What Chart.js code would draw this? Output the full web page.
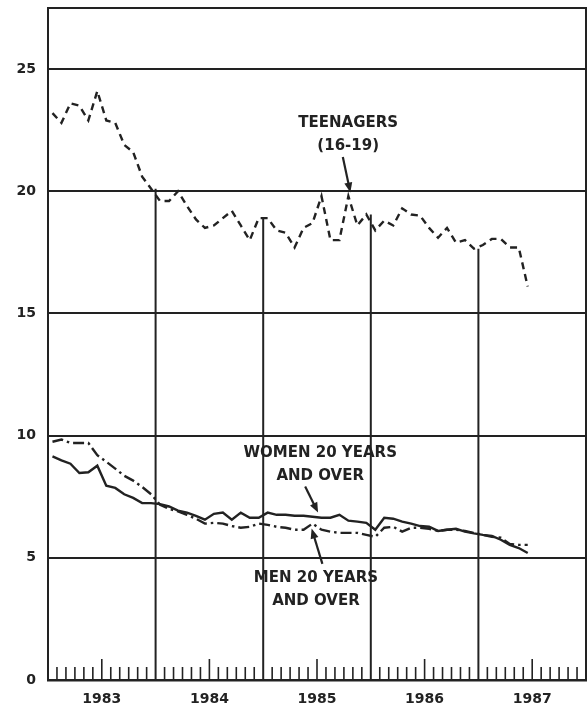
<!DOCTYPE html>
<html lang="en">
<head>
<meta charset="UTF-8">
<title>Unemployment rates by age and sex, 1983-87</title>
<script src="https://cdn.jsdelivr.net/npm/chart.js"></script>
<style>
    body { margin: 0; background: #fff; }
    .chart-box { width: 587px; height: 708px; position: relative; }
</style>
</head>
<body>
<div class="chart-box"><canvas id="chart"></canvas></div>
<script>
// monthly data, January 1983 through June 1987
const years = [1983, 1984, 1985, 1986, 1987];
const yTicks = [0, 5, 10, 15, 20, 25];

const teenagers = [
    23.2, 22.8, 23.6, 23.5, 22.9, 24.1, 22.9, 22.8, 21.9, 21.6, 20.6, 20.1,
    19.6, 19.6, 20.0, 19.4, 18.85, 18.5, 18.6, 18.9, 19.2, 18.6, 18.0, 18.9,
    18.9, 18.4, 18.3, 17.7, 18.5, 18.7, 19.8, 18.0, 18.0, 19.8, 18.6, 19.05,
    18.4, 18.8, 18.6, 19.3, 19.05, 19.0, 18.5, 18.1, 18.5, 17.9, 18.0, 17.65,
    17.8, 18.05, 18.05, 17.7, 17.7, 16.1
];
const women = [
    9.15, 8.99, 8.85, 8.47, 8.5, 8.77, 7.95, 7.86, 7.6, 7.45, 7.24, 7.24,
    7.2, 7.1, 6.93, 6.85, 6.72, 6.56, 6.8, 6.85, 6.56, 6.85, 6.64, 6.64,
    6.85, 6.76, 6.76, 6.72, 6.72, 6.68, 6.64, 6.64, 6.76, 6.52, 6.48, 6.43,
    6.15, 6.64, 6.6, 6.48, 6.4, 6.3, 6.27, 6.1, 6.15, 6.19, 6.07, 6.0,
    5.94, 5.9, 5.74, 5.53, 5.4, 5.2
];
const men = [
    9.75, 9.84, 9.7, 9.7, 9.7, 9.2, 8.93, 8.65, 8.36, 8.16, 7.9, 7.6,
    7.17, 7.0, 6.9, 6.76, 6.6, 6.4, 6.43, 6.4, 6.3, 6.23, 6.27, 6.4,
    6.35, 6.27, 6.23, 6.15, 6.15, 6.4, 6.15, 6.07, 6.02, 6.02, 6.02, 5.94,
    5.86, 6.23, 6.27, 6.07, 6.23, 6.23, 6.19, 6.1, 6.15, 6.15, 6.1, 6.02,
    5.94, 5.86, 5.82, 5.57, 5.53, 5.53
];

const ink = '#222';
const font = 'DejaVu Sans, sans-serif';
const startYear = years[0];
const endYear = years[years.length - 1] + 1;

// month i is plotted in the middle of its month
const toPoints = arr => arr.map((v, i) => ({ x: startYear + (i + 0.5) / 12, y: v }));

// labels placed in data units
const notes = [
    { lines: ['TEENAGERS', '(16-19)'], x: 1985.79, y: [22.8, 21.85],
      arrow: [1985.74, 21.4, 1985.81, 19.95] },
    { lines: ['WOMEN 20 YEARS', 'AND OVER'], x: 1985.53, y: [9.28, 8.35],
      arrow: [1985.39, 7.92, 1985.51, 6.85], gap: [1985.75, 1985.21, 9.8, 7.85] },
    { lines: ['MEN 20 YEARS', 'AND OVER'], x: 1985.49, y: [4.17, 3.23],
      arrow: [1985.55, 4.75, 1985.45, 6.2], gap: [1985.75, 1985.2, 4.8, 2.75] }
];

const framePlugin = {
    id: 'frame',
    beforeDatasetsDraw(chart) {
        const { ctx, chartArea: a, scales: { x, y } } = chart;
        ctx.save();
        ctx.strokeStyle = ink;

        // outer frame
        ctx.lineWidth = 2;
        ctx.strokeRect(a.left, a.top, a.right - a.left, a.bottom - a.top);

        // month ticks rising from the base line
        ctx.lineWidth = 1.6;
        for (let m = 1; m < (endYear - startYear) * 12; m++) {
            if (m % 12 === 0) continue;
            const px = x.getPixelForValue(startYear + m / 12);
            const h = m % 12 === 6 ? 21 : 13;
            ctx.beginPath();
            ctx.moveTo(px, a.bottom);
            ctx.lineTo(px, a.bottom - h);
            ctx.stroke();
        }

        // year dividers hang from the teenage line
        ctx.lineWidth = 2;
        years.slice(1).forEach(yr => {
            const idx = (yr - startYear) * 12 - 1;
            const px = x.getPixelForValue(yr);
            ctx.beginPath();
            ctx.moveTo(px, y.getPixelForValue(teenagers[idx]));
            ctx.lineTo(px, a.bottom);
            ctx.stroke();
        });

        // white space behind the lower labels
        ctx.fillStyle = '#fff';
        notes.forEach(n => {
            if (!n.gap) return;
            const [x1, x0, y1, y0] = n.gap;
            const l = x.getPixelForValue(x0), r = x.getPixelForValue(x1);
            const t = y.getPixelForValue(y1), b = y.getPixelForValue(y0);
            ctx.fillRect(l, t, r - l, b - t);
        });
        ctx.restore();
    },
    afterDatasetsDraw(chart) {
        const { ctx, scales: { x, y } } = chart;
        ctx.save();
        ctx.fillStyle = ink;
        ctx.strokeStyle = ink;
        ctx.font = 'bold 15px ' + font;
        ctx.textAlign = 'center';
        ctx.textBaseline = 'middle';
        notes.forEach(n => {
            const px = x.getPixelForValue(n.x);
            n.lines.forEach((t, i) => ctx.fillText(t, px, y.getPixelForValue(n.y[i])));

            const [ax0, ay0, ax1, ay1] = n.arrow;
            const x0 = x.getPixelForValue(ax0), y0 = y.getPixelForValue(ay0);
            const x1 = x.getPixelForValue(ax1), y1 = y.getPixelForValue(ay1);
            const ang = Math.atan2(y1 - y0, x1 - x0);
            ctx.lineWidth = 2.2;
            ctx.beginPath();
            ctx.moveTo(x0, y0);
            ctx.lineTo(x1 - 6 * Math.cos(ang), y1 - 6 * Math.sin(ang));
            ctx.stroke();
            ctx.beginPath();
            ctx.moveTo(x1, y1);
            ctx.lineTo(x1 - 10 * Math.cos(ang) + 4 * Math.sin(ang), y1 - 10 * Math.sin(ang) - 4 * Math.cos(ang));
            ctx.lineTo(x1 - 10 * Math.cos(ang) - 4 * Math.sin(ang), y1 - 10 * Math.sin(ang) + 4 * Math.cos(ang));
            ctx.closePath();
            ctx.fill();
        });
        ctx.restore();
    }
};

new Chart(document.getElementById('chart'), {
    type: 'line',
    data: {
        datasets: [
            { label: 'Teenagers (16-19)', data: toPoints(teenagers), borderDash: [7, 5] },
            { label: 'Women 20 years and over', data: toPoints(women), borderDash: [] },
            { label: 'Men 20 years and over', data: toPoints(men), borderDash: [11, 4, 2.5, 4] }
        ]
    },
    options: {
        responsive: true,
        maintainAspectRatio: false,
        animation: false,
        layout: { padding: { top: 8, right: 1, left: 0, bottom: 0 } },
        elements: {
            line: { borderColor: ink, borderWidth: 2.4, tension: 0, fill: false },
            point: { radius: 0, hoverRadius: 0 }
        },
        plugins: { legend: { display: false }, tooltip: { enabled: false } },
        scales: {
            x: {
                type: 'linear',
                min: startYear,
                max: endYear,
                afterBuildTicks: s => { s.ticks = years.map(v => ({ value: v + 0.5 })); },
                afterFit: s => { s.height = 28; s.paddingLeft = 0; s.paddingRight = 0; },
                grid: { display: false },
                border: { display: true, color: ink, width: 2.5 },
                ticks: {
                    color: ink,
                    padding: 3,
                    maxRotation: 0,
                    font: { family: font, size: 14, weight: 'bold' },
                    callback: v => String(Math.floor(v))
                }
            },
            y: {
                min: 0,
                max: 27.5,
                afterBuildTicks: s => { s.ticks = yTicks.map(v => ({ value: v })); },
                afterFit: s => { s.width = 48; s.paddingTop = 0; s.paddingBottom = 0; },
                grid: { color: ink, lineWidth: 2, drawTicks: false },
                border: { display: true, color: ink, width: 2 },
                ticks: {
                    color: ink,
                    padding: 12,
                    font: { family: font, size: 14, weight: 'bold' }
                }
            }
        }
    },
    plugins: [framePlugin]
});
</script>
</body>
</html>
